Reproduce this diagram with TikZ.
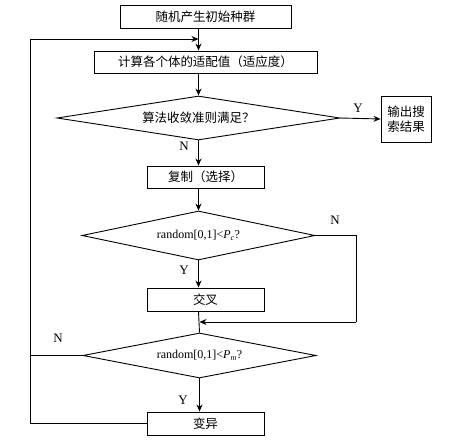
\documentclass[tikz,border=0pt]{standalone}
\usepackage{fontspec}
\setmainfont{Liberation Serif}
\newfontfamily\cjk{Noto Sans CJK SC}
\usetikzlibrary{shapes.geometric,arrows.meta}
\tikzset{
  procbox/.style={draw,line width=0.9pt,inner sep=0pt,font=\cjk\fontsize{12.5}{15}\selectfont},
  decision/.style={draw,diamond,line width=0.9pt,inner sep=0pt,aspect=5},
  lbl/.style={font=\fontsize{13}{15}\selectfont},
  flow/.style={line width=0.9pt,-{Stealth[length=7pt,width=6pt]}},
  wire/.style={line width=0.9pt}
}
\begin{document}
\begin{tikzpicture}[x=1pt,y=-1pt]
  \useasboundingbox (0,0) rectangle (467,446);
  % boxes down the middle
  \node[procbox,minimum width=171pt,minimum height=23pt] (init) at (205.5,16.5) {随机产生初始种群};
  \node[procbox,minimum width=223pt,minimum height=22pt] (fit) at (205.5,62) {计算各个体的适配值（适应度）};
  \node[decision,minimum width=283pt,minimum height=44pt,font=\cjk\fontsize{12.5}{15}\selectfont] (conv) at (198.5,118) {算法收敛准则满足？};
  \node[procbox,minimum width=50pt,minimum height=46pt,align=center] (out) at (406,119) {输出搜\\索结果};
  \node[procbox,minimum width=117pt,minimum height=22pt] (copy) at (205.5,177) {复制（选择）};
  \node[decision,minimum width=233pt,minimum height=49pt,font=\fontsize{12}{14}\selectfont] (pc) at (198.5,235.5) {random[0,1]<\textit{P}\textsubscript{\textit{c}}?};
  \node[procbox,minimum width=117pt,minimum height=23pt] (cross) at (205.5,299.5) {交叉};
  \node[decision,minimum width=233pt,minimum height=45pt,font=\fontsize{12}{14}\selectfont] (pm) at (199.5,355.5) {random[0,1]<\textit{P}\textsubscript{\textit{m}}?};
  \node[procbox,minimum width=117pt,minimum height=23pt] (mut) at (205.5,423.5) {变异};

  % helper points
  \coordinate (loop) at (30,39);
  \coordinate (merge) at (conv.north |- loop);
  \coordinate (skip) at (356,322);

  % main spine
  \draw[flow] (conv.north |- init.south) -- (conv.north |- fit.north);
  \draw[flow] (conv.north |- fit.south) -- (conv.north);
  \draw[flow] (conv.east) -- (out.west);
  \draw[flow] (conv.south) -- (conv.south |- copy.north);
  \draw[flow] (pc.north |- copy.south) -- (pc.north);
  \draw[flow] (pc.south) -- (pc.south |- cross.north);
  \draw[wire] (pc.south |- cross.south) -- (pm.north);
  \draw[flow] (pm.south) -- (pm.south |- mut.north);

  % side branches
  \draw[wire] (pc.east) -- (pc.east -| skip) -- (skip);
  \draw[flow] (skip) -- (skip -| pm.north);
  \draw[wire] (mut.west) -- (mut.west -| loop) -- (loop);
  \draw[wire] (pm.west) -- (pm.west -| loop);
  \draw[flow] (loop) -- (merge);

  % branch labels
  \node[lbl] (ly1) at (358,108) {Y};
  \node[lbl] (ln1) at (184,146) {N};
  \node[lbl] (ln2) at (335,220) {N};
  \node[lbl] (ly2) at (184,270) {Y};
  \node[lbl] (ln3) at (58,338) {N};
  \node[lbl] (ly3) at (183,400) {Y};
\end{tikzpicture}
\end{document}
